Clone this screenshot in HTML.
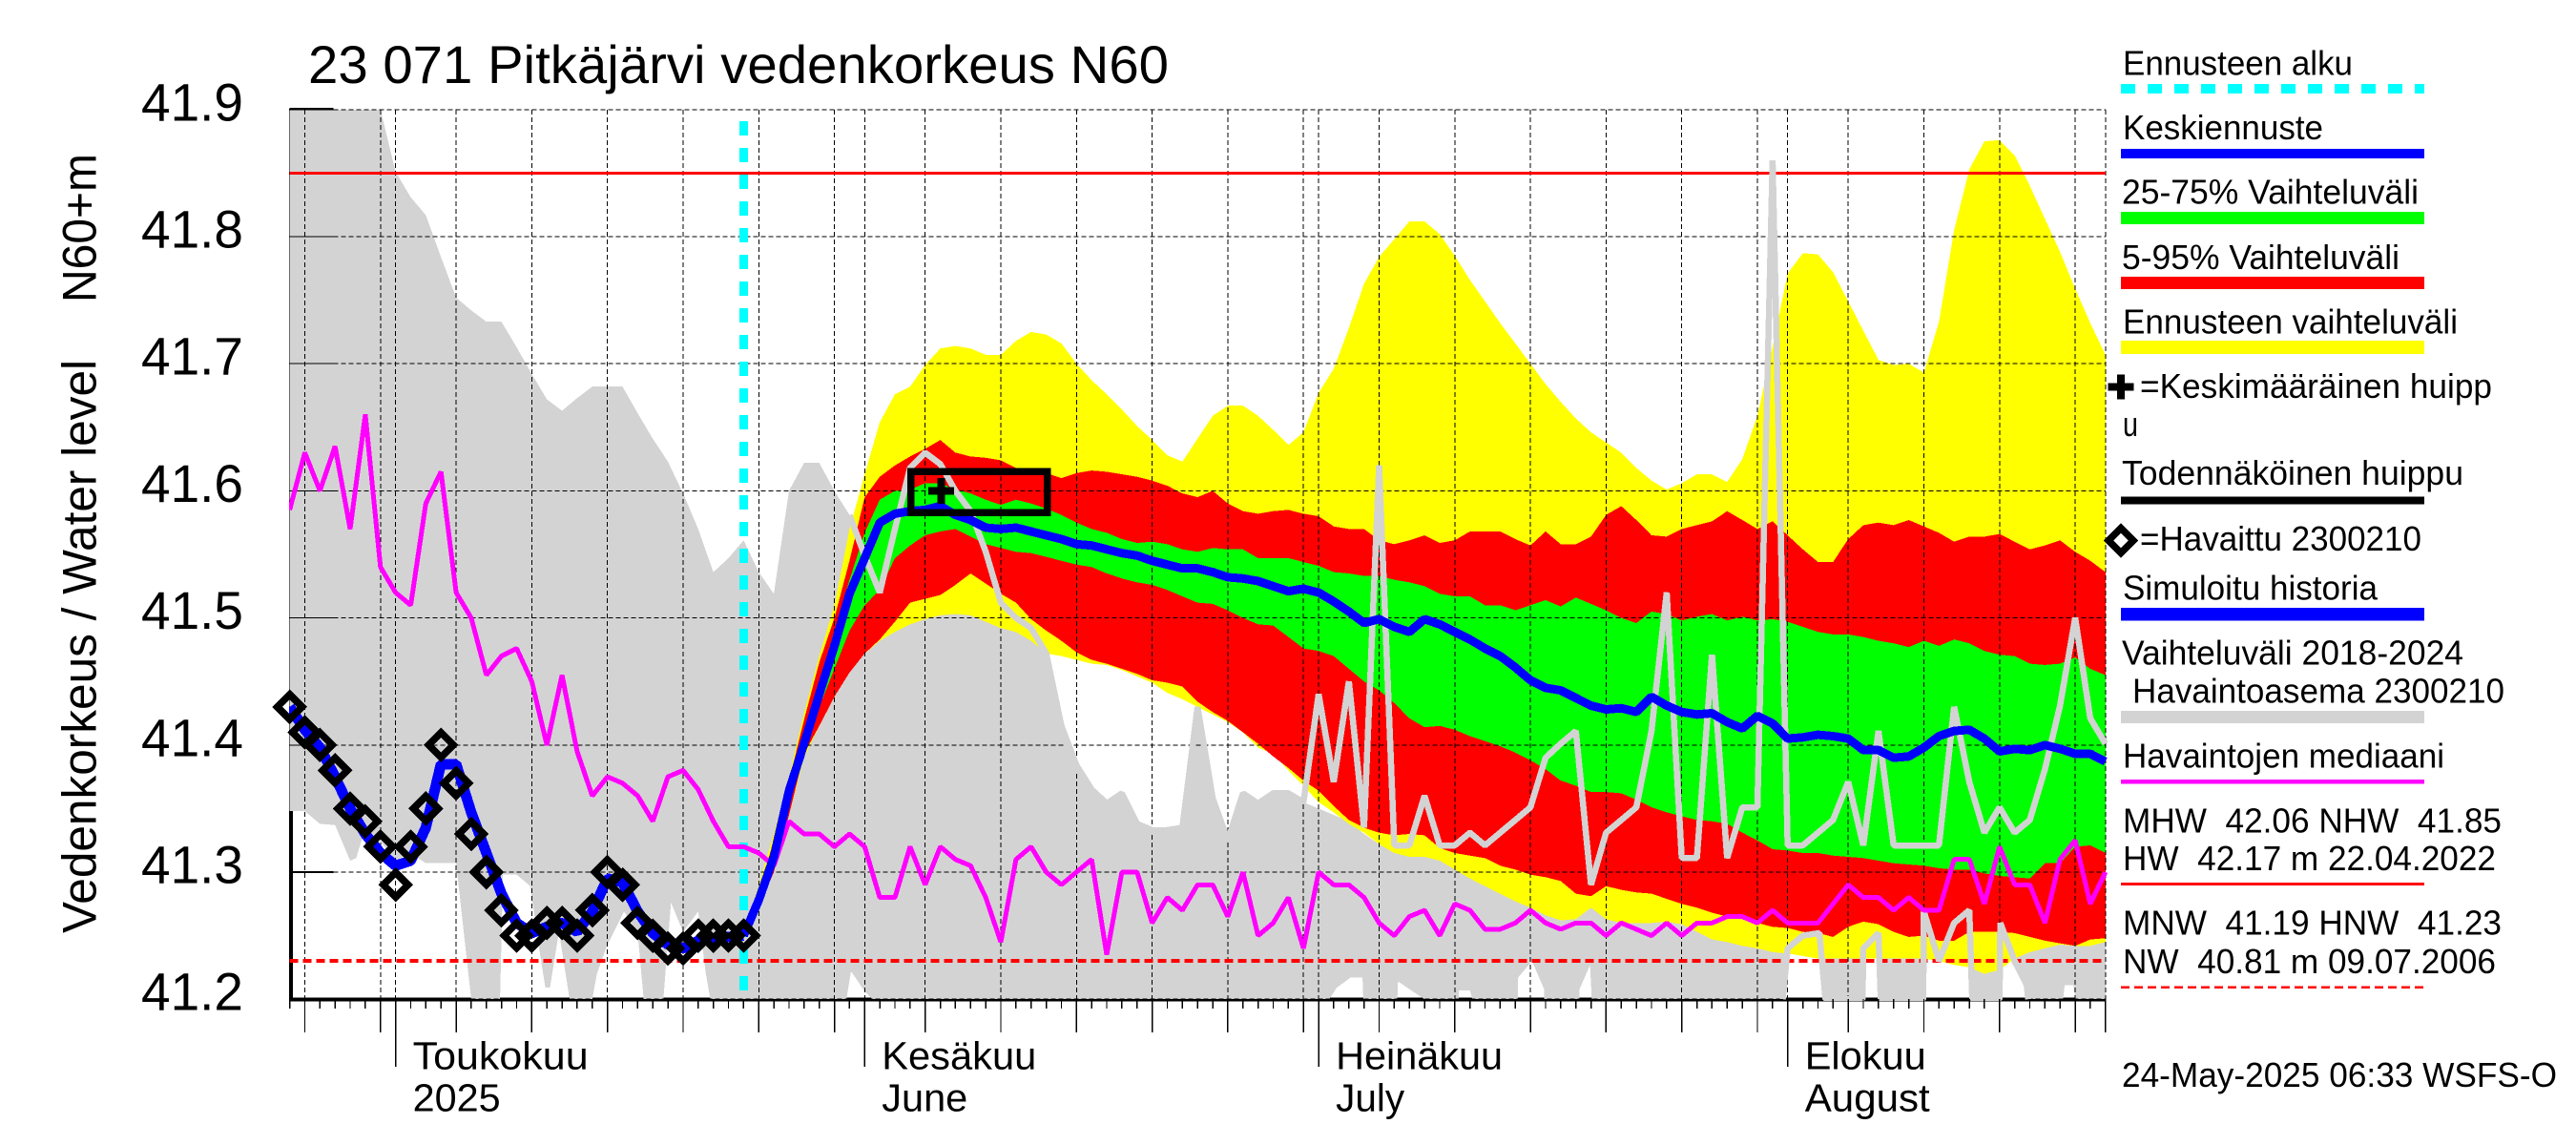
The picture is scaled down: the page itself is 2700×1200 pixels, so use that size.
<!DOCTYPE html>
<html lang="fi">
<head>
<meta charset="utf-8">
<title>23 071 Pitkäjärvi vedenkorkeus N60</title>
<style>
html,body{margin:0;padding:0;background:#fff;}
svg{display:block;}
text{font-family:"Liberation Sans",sans-serif;fill:#000;white-space:pre;}
</style>
</head>
<body>
<svg id="chart" xmlns="http://www.w3.org/2000/svg" width="2700" height="1200" viewBox="0 0 2700 1200" shape-rendering="crispEdges">
<rect x="0" y="0" width="2700" height="1200" fill="#fff"/>
<defs><clipPath id="plot-clip"><rect x="303" y="114" width="1906" height="935"/></clipPath></defs>
<g id="layer-axes"></g>
<g id="layer-plot" clip-path="url(#plot-clip)"></g>
<g id="layer-ticks"></g>

<text x="323" y="87" font-size="56" textLength="902" lengthAdjust="spacingAndGlyphs">23 071 Pitkäjärvi vedenkorkeus N60</text>
<text transform="translate(100.5 317) rotate(-90)" font-size="50" textLength="156" lengthAdjust="spacingAndGlyphs">N60+m</text>
<text transform="translate(100.5 978) rotate(-90)" font-size="50" textLength="601" lengthAdjust="spacingAndGlyphs">Vedenkorkeus / Water level</text>

<g>
<g>
<text x="2225" y="78.5" font-size="36" textLength="241" lengthAdjust="spacingAndGlyphs">Ennusteen alku</text>
<line x1="2223" x2="2541" y1="93" y2="93" stroke="#00ffff" stroke-width="10" stroke-dasharray="15 13"/>
</g>
<g>
<text x="2225" y="146" font-size="36" textLength="210" lengthAdjust="spacingAndGlyphs">Keskiennuste</text>
<rect x="2223" y="156" width="318" height="10" fill="#0000ff"/>
</g>
<g>
<text x="2224" y="213.5" font-size="36" textLength="311" lengthAdjust="spacingAndGlyphs">25-75% Vaihteluväli</text>
<rect x="2223" y="222" width="318" height="13" fill="#00ff00"/>
</g>
<g>
<text x="2224" y="282" font-size="36" textLength="291" lengthAdjust="spacingAndGlyphs">5-95% Vaihteluväli</text>
<rect x="2223" y="290" width="318" height="13" fill="#ff0000"/>
</g>
<g>
<text x="2225" y="349.4" font-size="36" textLength="351" lengthAdjust="spacingAndGlyphs">Ennusteen vaihteluväli</text>
<rect x="2223" y="357" width="318" height="14" fill="#ffff00"/>
</g>
<g>
<path d="M2223 392.5V418.5M2209.5 405.7H2236.5" stroke="#000" stroke-width="8" fill="none"/>
<text x="2243" y="417" font-size="36" textLength="369" lengthAdjust="spacingAndGlyphs">=Keskimääräinen huipp</text>
<text x="2225" y="457" font-size="36" textLength="16" lengthAdjust="spacingAndGlyphs">u</text>
</g>
<g>
<text x="2224" y="508" font-size="36" textLength="358" lengthAdjust="spacingAndGlyphs">Todennäköinen huippu</text>
<rect x="2223" y="520.5" width="318" height="8" fill="#000"/>
</g>
<g>
<path d="M2223 553.4L2236 566.4L2223 579.4L2210 566.4Z" stroke="#000" stroke-width="7.5" fill="none"/>
<text x="2243" y="577" font-size="36" textLength="295" lengthAdjust="spacingAndGlyphs">=Havaittu 2300210</text>
</g>
<g>
<text x="2225" y="628.7" font-size="36" textLength="267" lengthAdjust="spacingAndGlyphs">Simuloitu historia</text>
<rect x="2223" y="637" width="318" height="13.5" fill="#0000ff"/>
</g>
<g>
<text x="2224" y="696.4" font-size="36" textLength="358" lengthAdjust="spacingAndGlyphs">Vaihteluväli 2018-2024</text>
<text x="2235" y="736.6" font-size="36" textLength="390" lengthAdjust="spacingAndGlyphs">Havaintoasema 2300210</text>
<rect x="2223" y="745" width="318" height="13" fill="#d3d3d3"/>
</g>
<g>
<text x="2225" y="804.7" font-size="36" textLength="337" lengthAdjust="spacingAndGlyphs">Havaintojen mediaani</text>
<rect x="2223" y="817" width="318" height="4.6" fill="#ff00ff"/>
</g>
<g>
<text x="2225" y="872.5" font-size="36" textLength="397" lengthAdjust="spacingAndGlyphs">MHW  42.06 NHW  41.85</text>
<text x="2225" y="912" font-size="36" textLength="391" lengthAdjust="spacingAndGlyphs">HW  42.17 m 22.04.2022</text>
<rect x="2223" y="925" width="318" height="2.8" fill="#ff0000"/>
</g>
<g>
<text x="2225" y="979.6" font-size="36" textLength="397" lengthAdjust="spacingAndGlyphs">MNW  41.19 HNW  41.23</text>
<text x="2225" y="1020" font-size="36" textLength="391" lengthAdjust="spacingAndGlyphs">NW  40.81 m 09.07.2006</text>
<line x1="2223" x2="2541" y1="1034.8" y2="1034.8" stroke="#ff0000" stroke-width="2.6" stroke-dasharray="9 5"/>
</g>
</g>
<text x="2224" y="1138.8" font-size="36" textLength="456" lengthAdjust="spacingAndGlyphs">24-May-2025 06:33 WSFS-O</text>

<script>
// ---- axis tick data ----
const yTickValues = [41.2, 41.3, 41.4, 41.5, 41.6, 41.7, 41.8, 41.9];
const yTickLabels = ["41.2", "41.3", "41.4", "41.5", "41.6", "41.7", "41.8", "41.9"];
const totalDays = 120; // 24 Apr .. 22 Aug 2025
const gridDays = [1, 6, 7, 11, 16, 21, 26, 31, 36, 38, 42, 47, 52, 57, 62, 67, 68, 72, 77, 82, 87, 92, 97, 99, 103, 108, 113, 118, 120];
const monthDays = [7, 38, 68, 99];
const monthLabelsFi = ["Toukokuu", "Kesäkuu", "Heinäkuu", "Elokuu"];
const monthLabelsEn = ["2025", "June", "July", "August"];
const monthFiWidths = [184, 162, 175, 127];
const monthEnWidths = [92, 90, 72, 131];

// ---- reference levels ----
const highWaterLevel = 41.85;
const lowWaterLevel = 41.23;
const forecastStartDay = 30;
const peakBoxStartDay = 41.07;
const peakBoxEndDay = 50.08;
const peakBoxHigh = 41.6153;
const peakBoxLow = 41.5827;
const meanPeakDay = 43.07;
const meanPeakLevel = 41.6;

// ---- observed series, day 0..30 ----
const observed = [41.43,41.41,41.40,41.38,41.35,41.34,41.32,41.29,41.32,41.35,41.40,41.37,41.33,41.30,41.27,41.25,41.25,41.26,41.26,41.25,41.27,41.30,41.29,41.26,41.25,41.24,41.24,41.25,41.25,41.25,41.25];
const simulatedHistory = [41.43,41.412,41.398,41.375,41.35,41.33,41.315,41.305,41.309,41.335,41.385,41.385,41.347,41.315,41.283,41.26,41.252,41.257,41.26,41.253,41.269,41.295,41.292,41.269,41.252,41.243,41.24,41.246,41.247,41.249,41.25];

// ---- forecast series, day 30..120 ----
const meanForecast = [41.25,41.278,41.312,41.364,41.401,41.44,41.478,41.519,41.547,41.575,
41.582,41.584,41.585,41.588,41.581,41.577,41.571,41.57,41.571,41.568,
41.565,41.562,41.558,41.557,41.554,41.551,41.549,41.545,41.542,41.539,
41.539,41.536,41.532,41.531,41.529,41.525,41.521,41.523,41.52,41.513,
41.505,41.496,41.499,41.493,41.489,41.499,41.495,41.489,41.483,41.476,
41.47,41.461,41.451,41.445,41.443,41.437,41.431,41.428,41.429,41.426,
41.438,41.431,41.426,41.424,41.425,41.418,41.413,41.423,41.417,41.405,
41.406,41.408,41.407,41.405,41.396,41.396,41.39,41.391,41.398,41.407,
41.411,41.412,41.405,41.395,41.397,41.396,41.4,41.397,41.393,41.393,41.387];
const forecastMax = [41.25,41.29,41.33,41.375,41.425,41.47,41.51,41.57,41.613,41.654,
41.676,41.682,41.699,41.712,41.714,41.712,41.707,41.707,41.718,41.725,
41.723,41.716,41.7,41.687,41.676,41.664,41.651,41.64,41.628,41.623,
41.641,41.659,41.667,41.667,41.659,41.648,41.636,41.646,41.677,41.696,
41.728,41.763,41.784,41.798,41.812,41.812,41.802,41.785,41.766,41.749,
41.732,41.716,41.7,41.684,41.67,41.657,41.646,41.638,41.63,41.618,
41.608,41.601,41.606,41.613,41.613,41.607,41.625,41.659,41.713,41.771,
41.787,41.786,41.772,41.749,41.726,41.703,41.699,41.7,41.693,41.733,
41.805,41.853,41.875,41.876,41.864,41.84,41.814,41.788,41.759,41.732,41.707];
const forecastP95 = [41.25,41.285,41.325,41.372,41.42,41.465,41.5,41.545,41.595,41.611,
41.62,41.627,41.633,41.64,41.63,41.627,41.626,41.624,41.618,41.618,
41.614,41.61,41.614,41.616,41.615,41.613,41.611,41.608,41.604,41.598,
41.595,41.6,41.59,41.584,41.582,41.584,41.585,41.582,41.58,41.572,
41.57,41.57,41.561,41.558,41.561,41.565,41.559,41.561,41.568,41.568,
41.568,41.562,41.557,41.568,41.558,41.558,41.564,41.581,41.588,41.577,
41.565,41.564,41.57,41.573,41.576,41.584,41.577,41.57,41.576,41.565,
41.554,41.544,41.544,41.562,41.573,41.575,41.573,41.577,41.572,41.567,
41.56,41.564,41.564,41.566,41.56,41.554,41.557,41.561,41.552,41.545,41.536];
const forecastP75 = [41.25,41.28,41.318,41.368,41.41,41.45,41.49,41.53,41.567,41.593,
41.6,41.601,41.606,41.606,41.601,41.598,41.593,41.589,41.593,41.59,
41.586,41.581,41.575,41.57,41.567,41.562,41.559,41.56,41.558,41.554,
41.552,41.555,41.554,41.554,41.547,41.547,41.547,41.544,41.541,41.536,
41.535,41.533,41.533,41.53,41.528,41.525,41.519,41.517,41.517,41.51,
41.51,41.506,41.51,41.514,41.509,41.516,41.511,41.506,41.5,41.496,
41.505,41.503,41.498,41.501,41.503,41.498,41.501,41.498,41.499,41.497,
41.493,41.489,41.487,41.487,41.485,41.482,41.48,41.477,41.482,41.478,
41.483,41.48,41.474,41.471,41.47,41.464,41.463,41.464,41.469,41.46,41.455];
const forecastP25 = [41.25,41.276,41.306,41.358,41.395,41.43,41.46,41.49,41.51,41.522,
41.547,41.557,41.565,41.568,41.57,41.564,41.558,41.555,41.552,41.551,
41.548,41.545,41.542,41.54,41.535,41.531,41.528,41.526,41.522,41.517,
41.512,41.511,41.506,41.5,41.495,41.494,41.485,41.476,41.474,41.47,
41.46,41.45,41.443,41.433,41.421,41.414,41.415,41.412,41.407,41.403,
41.399,41.394,41.388,41.381,41.372,41.368,41.363,41.363,41.362,41.357,
41.351,41.347,41.344,41.341,41.34,41.338,41.331,41.325,41.318,41.317,
41.315,41.315,41.313,41.312,41.311,41.309,41.307,41.306,41.305,41.303,
41.302,41.302,41.299,41.297,41.296,41.295,41.307,41.307,41.32,41.321,41.315];
const forecastP5 = [41.25,41.272,41.30,41.345,41.393,41.415,41.438,41.457,41.472,41.483,
41.497,41.512,41.515,41.518,41.526,41.535,41.527,41.519,41.512,41.499,
41.49,41.482,41.473,41.467,41.464,41.46,41.456,41.451,41.449,41.446,
41.434,41.426,41.419,41.41,41.401,41.391,41.382,41.372,41.364,41.352,
41.341,41.335,41.331,41.329,41.33,41.329,41.319,41.315,41.313,41.311,
41.305,41.302,41.298,41.296,41.293,41.283,41.281,41.289,41.286,41.284,
41.283,41.279,41.275,41.272,41.268,41.265,41.263,41.26,41.257,41.256,
41.253,41.252,41.249,41.257,41.261,41.259,41.253,41.249,41.25,41.246,
41.246,41.253,41.253,41.253,41.252,41.249,41.246,41.244,41.242,41.247,41.248];
const forecastMin = [41.25,41.272,41.30,41.345,41.39,41.415,41.438,41.457,41.472,41.482,
41.489,41.495,41.499,41.502,41.503,41.502,41.497,41.492,41.489,41.482,
41.472,41.47,41.467,41.464,41.463,41.459,41.454,41.449,41.441,41.436,
41.43,41.424,41.418,41.41,41.398,41.393,41.38,41.368,41.355,41.347,
41.338,41.331,41.322,41.315,41.312,41.312,41.309,41.302,41.295,41.289,
41.283,41.277,41.272,41.266,41.262,41.263,41.272,41.263,41.26,41.26,
41.26,41.261,41.259,41.253,41.247,41.245,41.242,41.24,41.237,41.236,
41.234,41.232,41.232,41.232,41.232,41.232,41.232,41.232,41.232,41.23,
41.227,41.225,41.22,41.223,41.232,41.237,41.24,41.243,41.242,41.242,41.245];

// ---- historic range 2018-2024, upper envelope day 0..120 ----
const historicHigh = [41.9,41.9,41.9,41.9,41.9,41.9,41.9,41.851,41.831,41.817,
41.784,41.752,41.742,41.733,41.733,41.713,41.692,41.672,41.663,41.673,
41.682,41.682,41.682,41.661,41.641,41.623,41.598,41.57,41.536,41.547,
41.561,41.536,41.519,41.6,41.622,41.622,41.6,41.581,41.549,41.52,
41.489,41.495,41.499,41.502,41.503,41.502,41.497,41.492,41.489,41.482,
41.472,41.415,41.384,41.365,41.354,41.362,41.338,41.333,41.333,41.335,
41.43,41.358,41.325,41.362,41.354,41.362,41.362,41.355,41.35,41.345,
41.34,41.33,41.322,41.315,41.312,41.312,41.309,41.302,41.295,41.289,
41.283,41.277,41.272,41.266,41.262,41.263,41.272,41.263,41.26,41.26,
41.26,41.261,41.259,41.253,41.247,41.245,41.242,41.24,41.237,41.24,
41.25,41.252,41.24,41.24,41.24,41.252,41.24,41.24,41.269,41.23,
41.26,41.27,41.25,41.26,41.23,41.25,41.25,41.25,41.25,41.25,41.25];

// ---- historic range, lower envelope (irregular sampling) ----
const historicLowDays = [0,1,2,3,4,4.4,5,6,7,8,9,11,12,13.9,14.1,15,15.9,16.5,16.9,17.2,17.8,18.5,20,20.3,21,22.1,23,23.4,24.7,25.2,26,27,27.5,27.8,
36.8,37.1,38,38.5,68.7,69.2,70.1,70.9,70.95,73.2,73.25,75,77.25,77.26,78,78.15,81.17,81.18,82.1,82.9,82.92,85.24,85.25,85.94,86.05,
98.67,99,100,101.1,101.5,103.95,104,105,105.15,107.96,108,109,110,111,111.2,113,113.05,114,114.8,114.9,117.2,117.3,117.9,118,120];
const historicLow = [41.348,41.348,41.338,41.337,41.309,41.311,41.335,41.324,41.309,41.315,41.307,41.307,41.2,41.2,41.298,41.298,41.289,41.239,41.209,41.209,41.253,41.2,41.2,41.22,41.243,41.269,41.252,41.2,41.2,41.276,41.253,41.269,41.22,41.2,
41.2,41.222,41.206,41.2,41.2,41.209,41.217,41.217,41.2,41.2,41.214,41.2,41.2,41.207,41.207,41.2,41.2,41.217,41.23,41.208,41.2,41.2,41.208,41.227,41.2,
41.2,41.24,41.25,41.252,41.2,41.2,41.24,41.252,41.2,41.2,41.269,41.23,41.26,41.27,41.2,41.2,41.26,41.23,41.211,41.2,41.2,41.211,41.211,41.2,41.2];
const historicLowStrokeFromDay = 98.67;
const historicLowStrokeToDay = 114.9;

// ---- station 2300210 yearly trace, day 37..120 ----
const stationTraceStartDay = 37;
const stationTrace = [41.581,41.549,41.52,41.57,41.618,41.63,41.621,41.6,41.584,41.552,41.512,41.5,41.492,41.472,
41.415,41.384,41.365,41.354,41.362,41.338,41.333,41.333,41.335,41.43,41.358,41.325,41.362,41.354,41.362,41.362,
41.355,41.44,41.371,41.45,41.335,41.62,41.321,41.321,41.36,41.321,41.321,41.331,41.321,41.331,41.341,41.351,41.39,41.401,41.411,41.29,41.331,41.341,41.351,41.411,41.52,41.311,41.311,41.471,41.311,41.351,41.351,41.86,41.321,41.321,41.331,41.341,41.371,41.321,41.411,41.321,41.321,41.321,41.321,41.43,41.371,41.331,41.351,41.331,41.341,41.381,41.431,41.5,41.421,41.401];

// ---- observed median, day 0..120 ----
const observedMedian = [41.585,41.63,41.6,41.635,41.57,41.66,41.54,41.52,41.51,41.59,
41.615,41.52,41.5,41.455,41.47,41.476,41.45,41.4,41.455,41.395,
41.36,41.375,41.37,41.36,41.34,41.375,41.38,41.365,41.34,41.32,
41.32,41.315,41.305,41.34,41.33,41.33,41.32,41.33,41.32,41.28,
41.28,41.32,41.29,41.32,41.31,41.305,41.28,41.245,41.31,41.32,
41.3,41.29,41.3,41.31,41.235,41.3,41.3,41.26,41.28,41.27,
41.29,41.29,41.265,41.3,41.25,41.26,41.28,41.24,41.3,41.29,
41.29,41.28,41.26,41.25,41.265,41.27,41.25,41.275,41.27,41.255,
41.255,41.26,41.27,41.26,41.255,41.26,41.26,41.25,41.26,41.255,
41.25,41.26,41.25,41.26,41.26,41.265,41.265,41.26,41.27,41.26,
41.26,41.26,41.275,41.29,41.28,41.28,41.27,41.28,41.27,41.27,
41.31,41.31,41.275,41.32,41.29,41.29,41.26,41.31,41.325,41.275,41.3];

// ---- scales ----
const SVG_NS = "http://www.w3.org/2000/svg";
function xScale(day) { return 303.6 + day * 15.86; }
function yScale(level) { return 1047.2 - (level - 41.2) * 1332; }
const plotLeft = xScale(0), plotRight = xScale(totalDays);
const plotTop = yScale(41.9), plotBottom = yScale(41.2);

function make(tag, attrs, parent) {
  const el = document.createElementNS(SVG_NS, tag);
  for (const k in attrs) el.setAttribute(k, attrs[k]);
  parent.appendChild(el);
  return el;
}
function seriesPoints(values, startDay) {
  return values.map((v, i) => [xScale(startDay + i), yScale(v)]);
}
function toPointString(points) {
  return points.map(p => p[0].toFixed(1) + "," + p[1].toFixed(1)).join(" ");
}
function bandPolygon(parent, upper, lower, startDay, color) {
  const up = seriesPoints(upper, startDay);
  const low = seriesPoints(lower, startDay).reverse();
  return make("polygon", { points: toPointString(up.concat(low)), fill: color }, parent);
}
function seriesLine(parent, values, startDay, color, width) {
  return make("polyline", {
    points: toPointString(seriesPoints(values, startDay)),
    fill: "none", stroke: color, "stroke-width": width, "stroke-linejoin": "bevel"
  }, parent);
}

const axesLayer = document.getElementById("layer-axes");
const plotLayer = document.getElementById("layer-plot");
const tickLayer = document.getElementById("layer-ticks");

// ---- axis lines beneath the fills ----
const yAxisLine = make("line", { x1: plotLeft + 1.4, x2: plotLeft + 1.4, y1: plotTop - 1, y2: plotBottom + 2, stroke: "#000", "stroke-width": 4 }, axesLayer);


const xAxisLine = make("line", { x1: plotLeft, x2: plotRight, y1: plotBottom + 0.3, y2: plotBottom + 0.3, stroke: "#000", "stroke-width": 4 }, axesLayer);


yTickValues.forEach(function (v) {
  const t = make("line", { x1: plotLeft, x2: plotLeft + 46, y1: yScale(v), y2: yScale(v), stroke: "#000", "stroke-width": 2 }, axesLayer);
  
  
});
const topTickCap = make("line", { x1: plotLeft, x2: plotLeft + 46, y1: plotTop - 1, y2: plotTop - 1, stroke: "#000", "stroke-width": 2 }, axesLayer);



// ---- historic range fill ----
const historicPolyUpper = seriesPoints(historicHigh, 0);
const historicPolyLower = historicLowDays.map((d, i) => [xScale(d), yScale(historicLow[i])]).reverse();
const historicBand = make("polygon", { points: toPointString(historicPolyUpper.concat(historicPolyLower)), fill: "#d3d3d3" }, plotLayer);



// ---- forecast bands ----
const yellowBand = bandPolygon(plotLayer, forecastMax, forecastMin, forecastStartDay, "#ffff00");


const redBand = bandPolygon(plotLayer, forecastP95, forecastP5, forecastStartDay, "#ff0000");


const greenBand = bandPolygon(plotLayer, forecastP75, forecastP25, forecastStartDay, "#00ff00");



// ---- dashed grid over the fills ----
const gridGroup = make("g", { stroke: "#000", "stroke-width": 1, "stroke-dasharray": "5 3" }, plotLayer);


yTickValues.forEach(function (v) {
  const g = make("line", { x1: plotLeft + 46, x2: plotRight, y1: yScale(v), y2: yScale(v) }, gridGroup);
  
  
  const s = make("line", { x1: plotLeft, x2: plotLeft + 46, y1: yScale(v), y2: yScale(v), "stroke-dasharray": "none" }, gridGroup);
  
  
});
gridDays.forEach(function (d) {
  const g = make("line", { x1: xScale(d), x2: xScale(d), y1: plotTop, y2: plotBottom }, gridGroup);
  
  
});

// ---- high and low water levels ----
const hwLine = make("line", { x1: plotLeft, x2: plotRight, y1: yScale(highWaterLevel), y2: yScale(highWaterLevel), stroke: "#ff0000", "stroke-width": 3 }, plotLayer);


const nwLine = make("line", { x1: plotLeft, x2: plotRight, y1: yScale(lowWaterLevel), y2: yScale(lowWaterLevel), stroke: "#ff0000", "stroke-width": 4, "stroke-dasharray": "9 5" }, plotLayer);



// ---- forecast start marker ----
const startLine = make("line", { x1: xScale(forecastStartDay), x2: xScale(forecastStartDay), y1: plotTop + 12, y2: plotBottom, stroke: "#00ffff", "stroke-width": 9, "stroke-dasharray": "15 13" }, plotLayer);



// ---- station trace and lower envelope edge ----
const stationLine = seriesLine(plotLayer, stationTrace, stationTraceStartDay, "#d3d3d3", 6.5);


const lowEdgePoints = [];
historicLowDays.forEach(function (d, i) {
  if (d >= historicLowStrokeFromDay && d <= historicLowStrokeToDay) lowEdgePoints.push([xScale(d), yScale(historicLow[i])]);
});
const lowEdge = make("polyline", { points: toPointString(lowEdgePoints), fill: "none", stroke: "#d3d3d3", "stroke-width": 6.5, "stroke-linejoin": "bevel" }, plotLayer);



// ---- median ----
const medianLine = seriesLine(plotLayer, observedMedian, 0, "#ff00ff", 5);



// ---- simulated history and mean forecast ----
const historyLine = seriesLine(plotLayer, simulatedHistory, 0, "#0000ff", 11);


const forecastLine = seriesLine(plotLayer, meanForecast, forecastStartDay, "#0000ff", 9);



// ---- probable peak box and mean peak ----
const peakBox = make("rect", {
  x: xScale(peakBoxStartDay), y: yScale(peakBoxHigh),
  width: xScale(peakBoxEndDay) - xScale(peakBoxStartDay),
  height: yScale(peakBoxLow) - yScale(peakBoxHigh),
  fill: "none", stroke: "#000", "stroke-width": 7.5
}, plotLayer);


const peakX = xScale(meanPeakDay), peakY = yScale(meanPeakLevel);
const peakPlus = make("path", {
  d: "M" + peakX + " " + (peakY - 13.5) + "V" + (peakY + 13.5) + "M" + (peakX - 13.5) + " " + peakY + "H" + (peakX + 13.5),
  fill: "none", stroke: "#000", "stroke-width": 8
}, plotLayer);



// ---- observed diamonds (unclipped) ----
const diamondGroup = make("g", { fill: "none", stroke: "#000", "stroke-width": 7.5, "stroke-linejoin": "miter" }, tickLayer);


observed.forEach(function (v, i) {
  const cx = xScale(i), cy = yScale(v), r = 13;
  const m = make("path", { d: "M" + cx + " " + (cy - r) + "L" + (cx + r) + " " + cy + "L" + cx + " " + (cy + r) + "L" + (cx - r) + " " + cy + "Z" }, diamondGroup);
  
  
});

// ---- x ticks ----
const xTickGroup = make("g", { stroke: "#000", "stroke-width": 1.4 }, tickLayer);


for (let d = 0; d <= totalDays; d++) {
  let end = 1057;
  if (gridDays.indexOf(d) >= 0) end = 1082;
  if (monthDays.indexOf(d) >= 0) end = 1118;
  const tick = make("line", { x1: xScale(d), x2: xScale(d), y1: plotBottom, y2: end }, xTickGroup);
  
  
}

// ---- y tick labels ----
yTickValues.forEach(function (v, i) {
  const label = make("text", { x: 148, y: yScale(v) + 11.5, "font-size": 56, textLength: 107, lengthAdjust: "spacingAndGlyphs" }, tickLayer);
  
  
  label.textContent = yTickLabels[i];
});

// ---- month labels ----
monthDays.forEach(function (d, i) {
  const labelX = xScale(d) + 18;
  const fi = make("text", { x: labelX, y: 1120.5, "font-size": 41, textLength: monthFiWidths[i], lengthAdjust: "spacingAndGlyphs" }, tickLayer);
  
  
  fi.textContent = monthLabelsFi[i];
  const en = make("text", { x: labelX, y: 1164.5, "font-size": 41, textLength: monthEnWidths[i], lengthAdjust: "spacingAndGlyphs" }, tickLayer);
  
  
  en.textContent = monthLabelsEn[i];
});
</script>
</svg>
</body>
</html>
